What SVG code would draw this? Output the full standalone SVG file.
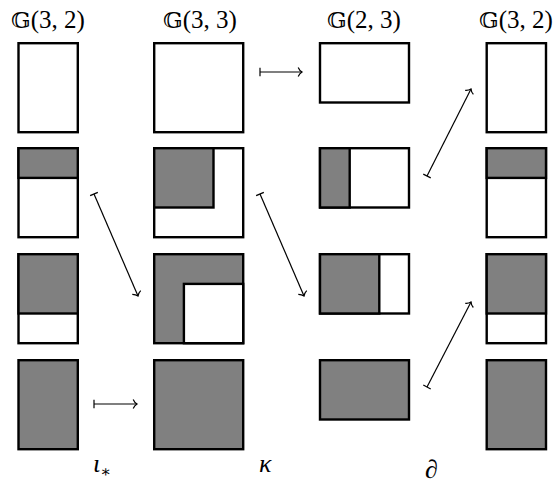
<svg xmlns="http://www.w3.org/2000/svg" width="556" height="488" viewBox="0 0 556 488">
<style>
.box{fill:#fff;stroke:#000;stroke-width:2.4}
.g{fill:#808080;stroke:#000;stroke-width:2.4}
.w{fill:#fff;stroke:#000;stroke-width:2.4}
.lbl{font-family:"Liberation Serif","DejaVu Serif",serif;font-size:25px;fill:#000}
.dbl{font-family:"DejaVu Serif","DejaVu Sans","Noto Sans",serif;font-size:23px}
.math{font-family:"Liberation Serif","DejaVu Serif",serif;font-style:italic;font-size:26px;fill:#000}
.arr{fill:none;stroke:#000;stroke-width:1.2;marker-start:url(#bar);marker-end:url(#head)}
</style>
<defs>
<marker id="head" markerUnits="userSpaceOnUse" orient="auto" overflow="visible" markerWidth="1" markerHeight="1">
<path d="M -3.8 -4.6 C -2.8 -2.2 -1.2 -0.7 0 0 C -1.2 0.7 -2.8 2.2 -3.8 4.6" fill="none" stroke="#000" stroke-width="1.2"/>
</marker>
<marker id="bar" markerUnits="userSpaceOnUse" orient="auto" overflow="visible" markerWidth="1" markerHeight="1">
<path d="M 0 -4.2 L 0 4.2" fill="none" stroke="#000" stroke-width="1.2"/>
</marker>
</defs>

<g id="labels">
<text class="lbl" x="48" y="28" text-anchor="middle"><tspan class="dbl">𝔾</tspan>(3, 2)</text>
<text class="lbl" x="200" y="28" text-anchor="middle"><tspan class="dbl">𝔾</tspan>(3, 3)</text>
<text class="lbl" x="364" y="28" text-anchor="middle"><tspan class="dbl">𝔾</tspan>(2, 3)</text>
<text class="lbl" x="516" y="28" text-anchor="middle"><tspan class="dbl">𝔾</tspan>(3, 2)</text>
</g>

<g id="col1">
<g id="c1r1"><rect class="box" x="18.5" y="43.2" width="59.3" height="89"/></g>
<g id="c1r2"><rect class="box" x="18.5" y="148.2" width="59.3" height="89"/><rect class="g" x="18.5" y="148.2" width="59.3" height="29.7"/></g>
<g id="c1r3"><rect class="box" x="18.5" y="254.2" width="59.3" height="89"/><rect class="g" x="18.5" y="254.2" width="59.3" height="59.3"/></g>
<g id="c1r4"><rect class="g" x="18.5" y="360.2" width="59.3" height="89"/></g>
</g>

<g id="col2">
<g id="c2r1"><rect class="box" x="154.2" y="43.2" width="89" height="89"/></g>
<g id="c2r2"><rect class="box" x="154.2" y="148.2" width="89" height="89"/><rect class="g" x="154.2" y="148.2" width="59.3" height="59.3"/></g>
<g id="c2r3"><rect class="g" x="154.2" y="254.2" width="89" height="89"/><rect class="w" x="183.9" y="283.9" width="59.3" height="59.3"/></g>
<g id="c2r4"><rect class="g" x="154.2" y="360.2" width="89" height="89"/></g>
</g>

<g id="col3">
<g id="c3r1"><rect class="box" x="320" y="43.2" width="89" height="59.3"/></g>
<g id="c3r2"><rect class="box" x="320" y="148.2" width="89" height="59.3"/><rect class="g" x="320" y="148.2" width="29.7" height="59.3"/></g>
<g id="c3r3"><rect class="box" x="320" y="254.2" width="89" height="59.3"/><rect class="g" x="320" y="254.2" width="59.3" height="59.3"/></g>
<g id="c3r4"><rect class="g" x="320" y="360.2" width="89" height="59.3"/></g>
</g>

<g id="col4">
<g id="c4r1"><rect class="box" x="486.7" y="43.2" width="59.3" height="89"/></g>
<g id="c4r2"><rect class="box" x="486.7" y="148.2" width="59.3" height="89"/><rect class="g" x="486.7" y="148.2" width="59.3" height="29.7"/></g>
<g id="c4r3"><rect class="box" x="486.7" y="254.2" width="59.3" height="89"/><rect class="g" x="486.7" y="254.2" width="59.3" height="59.3"/></g>
<g id="c4r4"><rect class="g" x="486.7" y="360.2" width="59.3" height="89"/></g>
</g>

<g id="connectors">
<line class="arr" x1="260" y1="72" x2="302" y2="72"/>
<line class="arr" x1="94" y1="404" x2="137" y2="404"/>
<line class="arr" x1="94" y1="194" x2="138" y2="296"/>
<line class="arr" x1="260" y1="194" x2="304" y2="296"/>
<line class="arr" x1="427" y1="176" x2="471" y2="89"/>
<line class="arr" x1="427" y1="387" x2="471" y2="302"/>
</g>

<g id="bottom">
<text class="math" x="93" y="472">ι<tspan font-size="16" font-style="normal" dy="5">∗</tspan></text>
<text class="math" x="259" y="472">κ</text>
<text class="math" x="425" y="478">∂</text>
</g>
</svg>
